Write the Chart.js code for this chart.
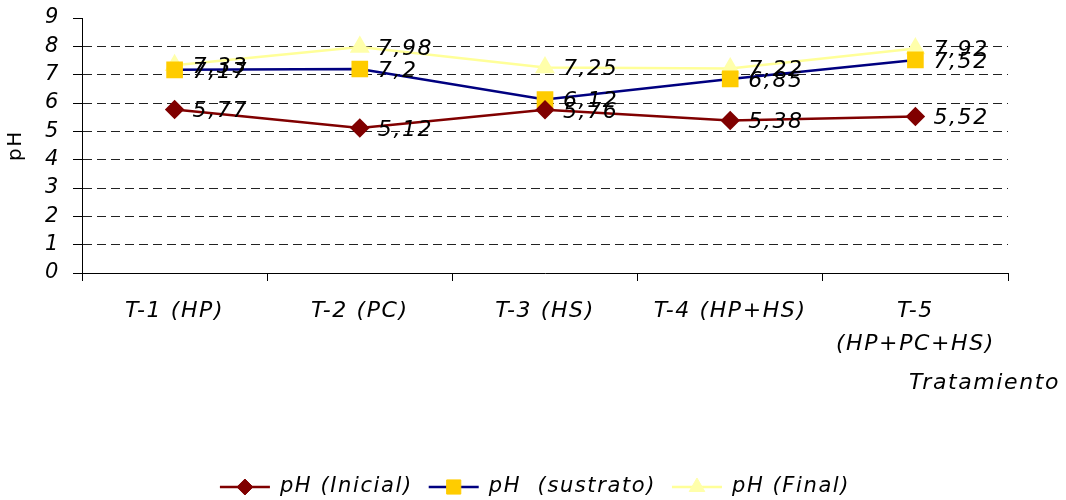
<!DOCTYPE html>
<html lang="es">
<head>
<meta charset="UTF-8">
<title>pH por tratamiento</title>
<script src="https://cdn.jsdelivr.net/npm/chart.js"></script>
<style>
  html, body { margin: 0; padding: 0; background: #fff; }
  #wrap { width: 1066px; height: 500px; }
</style>
</head>
<body>
<div id="wrap"><canvas id="chart" width="1066" height="500"></canvas></div>
<script>
// datos
const tratamientos = ['T-1 (HP)', 'T-2 (PC)', 'T-3 (HS)', 'T-4 (HP+HS)', ['T-5', '(HP+PC+HS)']];
const phInicial = [5.77, 5.12, 5.76, 5.38, 5.52];
const phSustrato = [7.17, 7.2, 6.12, 6.85, 7.52];
const phFinal = [7.33, 7.98, 7.25, 7.22, 7.92];
const yTicks = [0, 1, 2, 3, 4, 5, 6, 7, 8, 9];
const seriesNames = ['pH (Inicial)', 'pH  (sustrato)', 'pH (Final)'];

const FONT = '"DejaVu Sans", Verdana, sans-serif';
const SPACING = '1.6px'; // Verdana es mas ancha que DejaVu

// espaciado de letras para todo el texto del canvas
const spacing = {
    id: 'spacing',
    beforeUpdate(chart) { chart.ctx.letterSpacing = SPACING; },
    beforeDraw(chart) { chart.ctx.letterSpacing = SPACING; }
};

// etiquetas de valor a la derecha de cada punto
const valueLabels = {
    id: 'valueLabels',
    afterDatasetsDraw(chart) {
        const ctx = chart.ctx;
        ctx.save();
        ctx.letterSpacing = SPACING;
        ctx.font = 'italic 22px ' + FONT;
        ctx.fillStyle = '#000';
        ctx.textAlign = 'left';
        ctx.textBaseline = 'middle';
        chart.data.datasets.forEach((ds, i) => {
            chart.getDatasetMeta(i).data.forEach((pt, j) => {
                ctx.fillText(String(ds.data[j]).replace('.', ','), pt.x + 18, pt.y + 2);
            });
        });
        ctx.restore();
    }
};

// titulo del eje x y leyenda con linea + marcador
const extras = {
    id: 'extras',
    afterDraw(chart) {
        const ctx = chart.ctx;
        ctx.save();
        ctx.letterSpacing = SPACING;
        ctx.fillStyle = '#000';
        ctx.font = 'italic 22px ' + FONT;
        ctx.textAlign = 'right';
        ctx.textBaseline = 'middle';
        ctx.fillText('Tratamiento', 1060, 383);

        // leyenda
        ctx.font = 'italic 21px ' + FONT;
        ctx.textAlign = 'left';
        const y = 487;
        const widths = chart.data.datasets.map(ds => ctx.measureText(ds.label).width);
        const seg = 50, gap = 10, itemGap = 16;
        const total = widths.reduce((a, w) => a + seg + gap + w, 0) + itemGap * (widths.length - 1);
        let x = 535 - total / 2;
        chart.data.datasets.forEach((ds, i) => {
            ctx.strokeStyle = ds.borderColor;
            ctx.lineWidth = 2.5;
            ctx.beginPath();
            ctx.moveTo(x, y);
            ctx.lineTo(x + seg, y);
            ctx.stroke();
            ctx.fillStyle = ds.pointBackgroundColor;
            ctx.strokeStyle = ds.pointBorderColor;
            ctx.lineWidth = 1;
            Chart.helpers.drawPoint(ctx, {
                pointStyle: ds.pointStyle,
                radius: ds.pointRadius,
                borderWidth: 1
            }, x + seg / 2, y);
            ctx.fillStyle = '#000';
            ctx.fillText(ds.label, x + seg + gap, y);
            x += seg + gap + widths[i] + itemGap;
        });
        ctx.restore();
    }
};

new Chart(document.getElementById('chart'), {
    type: 'line',
    data: {
        labels: tratamientos,
        datasets: [
            {
                label: seriesNames[0],
                data: phInicial,
                borderColor: '#800000',
                borderWidth: 2.5,
                pointStyle: 'rectRot',
                pointRadius: 8,
                pointBackgroundColor: '#800000',
                pointBorderColor: '#800000',
                tension: 0
            },
            {
                label: seriesNames[1],
                data: phSustrato,
                borderColor: '#000080',
                borderWidth: 2.5,
                pointStyle: 'rect',
                pointRadius: 10,
                pointBackgroundColor: '#FFCC00',
                pointBorderColor: '#FFCC00',
                tension: 0
            },
            {
                label: seriesNames[2],
                data: phFinal,
                borderColor: '#FFFF99',
                borderWidth: 2.5,
                pointStyle: 'triangle',
                pointRadius: 9,
                pointBackgroundColor: '#FFFFAA',
                pointBorderColor: '#FFFFAA',
                tension: 0
            }
        ]
    },
    options: {
        responsive: false,
        animation: false,
        layout: { padding: { left: 0, top: 18, right: 58, bottom: 0 } },
        plugins: {
            legend: { display: false },
            tooltip: { enabled: false }
        },
        scales: {
            x: {
                offset: true,
                afterFit: s => { s.height = 227; },
                border: { color: '#000', width: 1 },
                grid: {
                    offset: true,
                    drawOnChartArea: false,
                    drawTicks: true,
                    tickLength: 8,
                    tickColor: '#000'
                },
                ticks: {
                    color: '#000',
                    padding: 14,
                    maxRotation: 0,
                    autoSkip: false,
                    font: { family: FONT, size: 22, style: 'italic', lineHeight: 1.5 }
                }
            },
            y: {
                min: 0,
                max: 9,
                afterFit: s => { s.width = 82; s.paddingTop = 0; s.paddingBottom = 0; },
                afterBuildTicks: s => { s.ticks = yTicks.map(v => ({ value: v })); },
                border: { color: '#000', width: 1, dash: [9, 5] },
                grid: {
                    color: c => (c.tick.value === 9 || c.tick.value === 0) ? 'rgba(0,0,0,0)' : '#222',
                    lineWidth: 1,
                    tickLength: 9,
                    tickColor: '#000',
                    tickBorderDash: []
                },
                ticks: {
                    color: '#000',
                    padding: 13,
                    autoSkip: false,
                    font: { family: FONT, size: 21, style: 'italic', lineHeight: 1 }
                },
                title: {
                    display: true,
                    text: 'pH',
                    color: '#000',
                    padding: { top: 4, bottom: 0 },
                    font: { family: FONT, size: 20 }
                }
            }
        }
    },
    plugins: [spacing, valueLabels, extras]
});
</script>
</body>
</html>
